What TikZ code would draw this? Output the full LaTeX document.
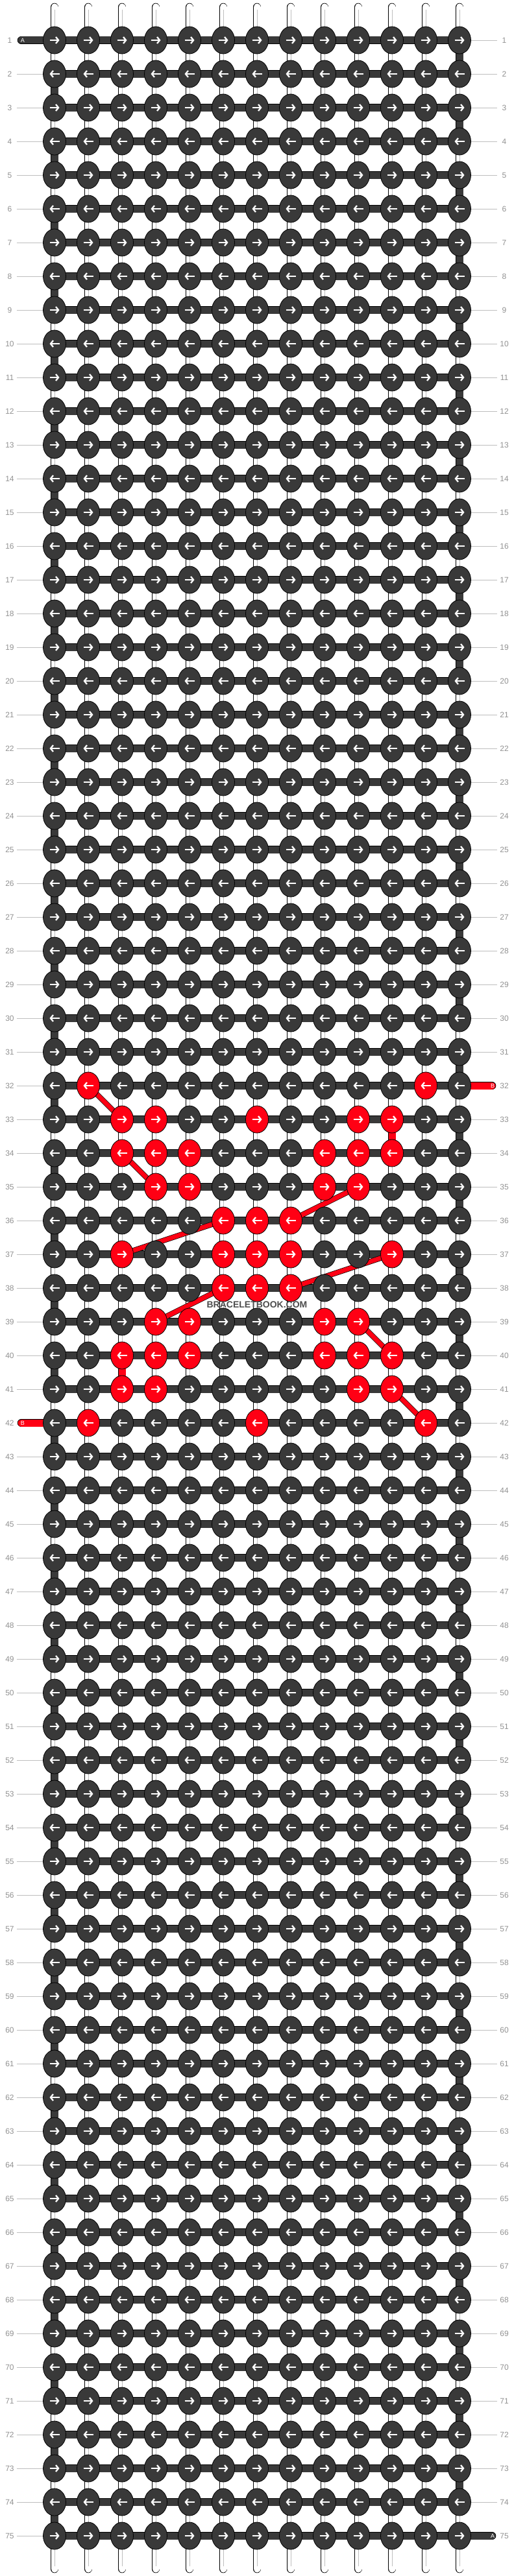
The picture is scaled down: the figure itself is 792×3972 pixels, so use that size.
\documentclass[tikz,border=0pt]{standalone}
\usepackage{fontspec}
\setmainfont{Liberation Sans}
\usetikzlibrary{shapes.geometric,arrows.meta}
\definecolor{bbdark}{RGB}{57,57,57}
\definecolor{bbred}{RGB}{255,0,20}
\definecolor{bbgrey}{RGB}{145,145,145}
\definecolor{bbline}{RGB}{190,190,190}
\pgfdeclarelayer{back}
\pgfsetlayers{back,main}
\tikzset{
  knot/.style={ellipse, draw=black, line width=0.8pt, minimum width=35pt,
    minimum height=42pt, inner sep=0pt},
  arrowline/.style={white, line width=2.3pt, -{Straight Barb[length=4pt,width=10pt]}},
  strand/.style={double=white, double distance=11pt, line width=0.8pt, line cap=round},
  bar/.style={double=#1, double distance=11pt, line width=0.8pt},
  tail/.style={double=#1, double distance=11pt, line width=0.8pt, line cap=round},
  redpath/.style={double=bbred, double distance=7pt, line width=0.7pt},
  rownum/.style={text=bbgrey, font=\fontsize{12}{12}\selectfont,
    minimum width=21pt, inner sep=0pt},
  rowline/.style={draw=bbline, line width=0.8pt},
  tailtext/.style={text=white, font=\fontsize{9}{9}\selectfont, inner sep=0pt}
}
\begin{document}
\begin{tikzpicture}[x=1pt, y=-1pt]
  \useasboundingbox (0,0) rectangle (792,3972);
  % knots coloured by string B
  \foreach \row/\cols in {32/{2,12}, 33/{3,4,7,10,11}, 34/{3,4,5,9,10,11},
      35/{4,5,9,10}, 36/{6,7,8}, 37/{3,6,7,8,11}, 38/{6,7,8}, 39/{4,5,9,10},
      40/{3,4,5,9,10,11}, 41/{3,4,10,11}, 42/{2,7,12}}
    \foreach \col in \cols {\expandafter\gdef\csname redknot\row-\col\endcsname{}}
  % the knots
  \foreach \row in {1,...,75} {
    \foreach \col in {1,...,13} {
      \ifcsname redknot\row-\col\endcsname \def\knotfill{bbred}\else \def\knotfill{bbdark}\fi
      \node[knot, fill=\knotfill] (k\row-\col) at ({84+52*(\col-1)}, {62+52*(\row-1)}) {};
      \ifodd\row\relax
        \draw[arrowline] ([xshift=-7.5pt]k\row-\col.center) -- ([xshift=7.5pt]k\row-\col.center);
      \else
        \draw[arrowline] ([xshift=7.5pt]k\row-\col.center) -- ([xshift=-7.5pt]k\row-\col.center);
      \fi
    }
    % row numbers
    \node[rownum] (numL\row) at (15, {62+52*(\row-1)}) {\row};
    \node[rownum] (numR\row) at (777, {62+52*(\row-1)}) {\row};
    \ifnum\row=1 \else \ifnum\row=42 \else
      \draw[rowline] (numL\row.east) -- (k\row-1.west);
    \fi\fi
    \ifnum\row=32 \else \ifnum\row=75 \else
      \draw[rowline] (k\row-13.east) -- (numR\row.west);
    \fi\fi
  }
  \begin{pgfonlayer}{back}
    % white strands
    \foreach \col in {1,...,13} {
      \coordinate (top\col) at ({84+52*(\col-1)}, 11);
      \coordinate (bot\col) at ({84+52*(\col-1)}, 3961);
      \draw[strand] (top\col) -- (bot\col);
      \draw[bbline, line width=0.8pt] ([yshift=-4pt]top\col) -- ([yshift=4pt]bot\col);
    }
    % string A along the rows and round the edges
    \foreach \row in {1,...,75}
      \draw[bar=bbdark] (k\row-1.center) -- (k\row-13.center);
    \foreach \row in {1,3,...,73} {
      \pgfmathtruncatemacro\nxt{\row+1}
      \draw[bar=bbdark] (k\row-13.center) -- (k\nxt-13.center);
    }
    \foreach \row in {2,4,...,74} {
      \pgfmathtruncatemacro\nxt{\row+1}
      \draw[bar=bbdark] (k\row-1.center) -- (k\nxt-1.center);
    }
    % loose ends
    \coordinate (endA1) at (33,62);
    \coordinate (endA2) at (758,3910);
    \coordinate (endB1) at (758,1674);
    \coordinate (endB2) at (33,2194);
    \draw[tail=bbdark] (endA1) -- (k1-1.center);
    \draw[tail=bbdark] (k75-13.center) -- (endA2);
    \draw[tail=bbred] (k32-13.center) -- (endB1);
    \draw[tail=bbred] (endB2) -- (k42-1.center);
    % string B behind the knots
    \draw[bar=bbred] (k33-11.center) -- (k34-11.center);
    \draw[bar=bbred] (k40-3.center) -- (k41-3.center);
    \foreach \a/\b in {32-2/33-3, 34-3/35-4, 35-10/36-8, 36-6/37-3,
        37-11/38-8, 38-6/39-4, 39-10/40-11, 41-11/42-12}
      \draw[redpath] (k\a.center) -- (k\b.center);
  \end{pgfonlayer}
  \node[tailtext] (lblA1) at (35,62) {A};
  \node[tailtext] (lblA2) at (759,3910) {A};
  \node[tailtext] (lblB1) at (759,1674) {B};
  \node[tailtext] (lblB2) at (35,2194) {B};
  \node[font=\bfseries\fontsize{14}{14}\selectfont, text=bbdark!90] (mark) at (396,2012) {BRACELETBOOK.COM};
\end{tikzpicture}
\end{document}
